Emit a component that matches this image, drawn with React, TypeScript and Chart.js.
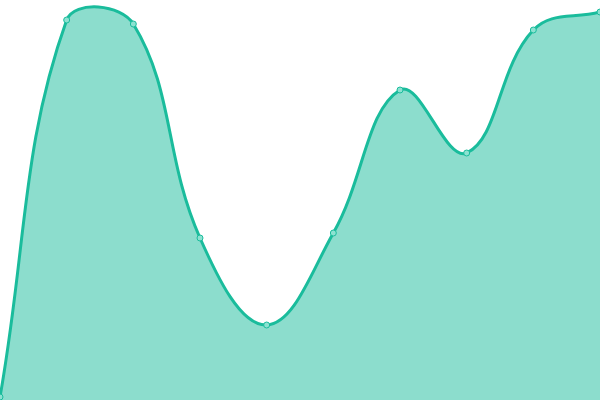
import { useEffect, useRef } from 'react';
import { Chart, registerables } from 'chart.js';

Chart.register(...registerables);

const labels = ['1', '2', '3', '4', '5', '6', '7', '8', '9', '10'];
const values = [3, 380, 376, 162, 75, 167, 310, 247, 370, 388];

export default function App() {
  const canvas = useRef<HTMLCanvasElement | null>(null);

  useEffect(() => {
    const node = canvas.current;
    if (!node) {
      return;
    }
    document.body.style.margin = '0';

    const chart = new Chart(node, {
      type: 'line',
      data: {
        labels,
        datasets: [
          {
            data: values,
            borderColor: '#1abc9c',
            backgroundColor: 'rgba(26, 188, 156, 0.5)',
            borderWidth: 3,
            fill: true,
            tension: 0.4,
            pointRadius: 3,
            pointBorderWidth: 1,
            pointBackgroundColor: '#8ce2d1',
            pointBorderColor: '#1abc9c'
          }
        ]
      },
      options: {
        animation: false,
        responsive: true,
        maintainAspectRatio: false,
        layout: { padding: 0, autoPadding: false },
        plugins: {
          legend: { display: false },
          tooltip: { enabled: false }
        },
        scales: {
          x: { display: false, offset: false },
          y: { display: false, min: 0, max: 400 }
        }
      }
    });

    return () => {
      chart.destroy();
    };
  }, []);

  return (
    <div style={{ position: 'fixed', left: 0, top: 0, width: 600, height: 400 }}>
      <canvas ref={canvas} />
    </div>
  );
}
